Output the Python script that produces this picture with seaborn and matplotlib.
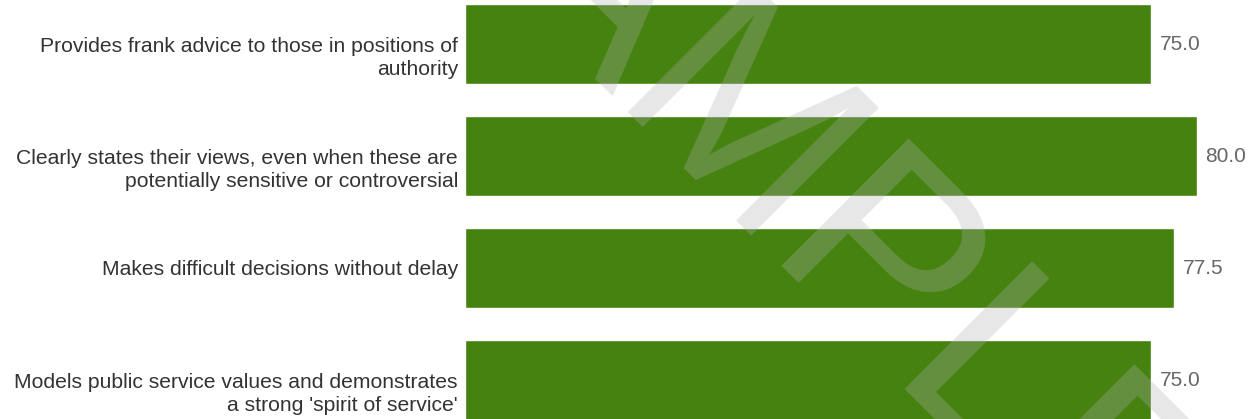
import pandas as pd
import matplotlib
matplotlib.use('Agg')
import matplotlib.pyplot as plt
import matplotlib.transforms as mtransforms
import seaborn as sns

# Chart data
labels = [
    "Provides frank advice to those in positions of\nauthority",
    "Clearly states their views, even when these are\npotentially sensitive or controversial",
    "Makes difficult decisions without delay",
    "Models public service values and demonstrates\na strong 'spirit of service'",
]
scores = [75.0, 80.0, 77.5, 75.0]

df = pd.DataFrame({'label': labels, 'score': scores})

sns.set_theme(style='white')
plt.rcParams['font.family'] = ['Liberation Sans', 'DejaVu Sans']

W, H = 1250, 419
fig = plt.figure(figsize=(W / 100, H / 100), dpi=100)
ax = fig.add_axes([465 / W, 0, 1 - 465 / W, 1])

sns.barplot(data=df, x='score', y='label', color='#45820f', saturation=1,
            width=80 / 112, ax=ax)

# scale: zero at left edge of axes, ~9.15 px per unit
ax.set_xlim(0, 785 / 9.15)
ax.set_ylim((419 - 44) / 112, -44 / 112)

ax.bar_label(ax.containers[0], fmt='%.1f', padding=6, fontsize=15,
             color='#666666')

ax.set_xlabel('')
ax.set_ylabel('')
ax.set_xticks([])
ax.set_yticks([])
sns.despine(ax=ax, left=True, bottom=True)

# category labels: first line centred on the bar, wrap continues below
line_px = 24
for i, lab in enumerate(labels):
    extra = lab.count('\n')
    shift = mtransforms.ScaledTranslation(-7 / 100, -(6.5 + line_px * extra) / 100,
                                          fig.dpi_scale_trans)
    ax.text(0, i, lab, transform=ax.get_yaxis_transform() + shift,
            ha='right', va='baseline', multialignment='right',
            fontsize=15.2, color='#333333', linespacing=1.25)

# Watermark
fig.text(362 / W, 1 + 141 / H, 'SAMPLE', fontsize=188, color='#b0b0b0',
         alpha=0.3, rotation=-45, rotation_mode='anchor', ha='left',
         va='baseline')

fig.savefig('out.png', dpi=100)
